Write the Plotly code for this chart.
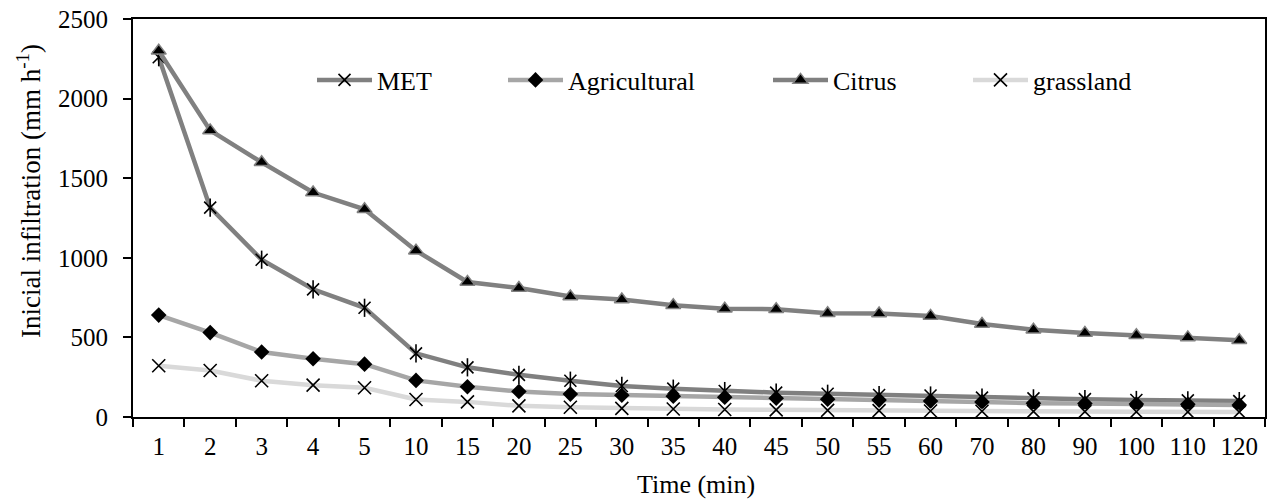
import plotly.graph_objects as go

times = ["1", "2", "3", "4", "5", "10", "15", "20", "25", "30", "35", "40",
         "45", "50", "55", "60", "70", "80", "90", "100", "110", "120"]
met = [2260, 1315, 988, 802, 686, 400, 312, 265, 228, 195, 178, 163,
       153, 146, 138, 135, 122, 117, 112, 107, 104, 100]
agricultural = [640, 530, 408, 366, 332, 230, 190, 160, 144, 137, 130, 124,
                118, 112, 106, 100, 95, 87, 85, 81, 80, 76]
citrus = [2300, 1800, 1600, 1410, 1305, 1045, 848, 810, 757, 738, 702, 680,
          677, 652, 650, 635, 584, 548, 527, 514, 500, 482]
grassland = [322, 292, 228, 200, 184, 110, 95, 70, 61, 54, 50, 47,
             45, 42, 40, 38, 36, 35, 34, 33, 32, 31]

FONT = "Liberation Serif, Times New Roman, serif"
FS_TICK = 25
FS_LEG = 26
FS_TITLE = 26

fig = go.Figure()

fig.add_trace(go.Scatter(
    x=times, y=met, name="MET", mode="lines+markers", legend="legend",
    line=dict(color="#808080", width=4.5),
    marker=dict(symbol="x-thin-open", size=12, color="black",
                line=dict(color="black", width=1.6)),
))
fig.add_trace(go.Scatter(
    x=times, y=met, name="MET", mode="markers", showlegend=False,
    marker=dict(symbol="line-ns-open", size=13, color="black",
                line=dict(color="black", width=1.6)),
))
fig.add_trace(go.Scatter(
    x=times, y=agricultural, name="Agricultural", mode="lines+markers",
    legend="legend2",
    line=dict(color="#a6a6a6", width=4.5),
    marker=dict(symbol="diamond", size=12, color="black",
                line=dict(color="black", width=0)),
))
fig.add_trace(go.Scatter(
    x=times, y=citrus, name="Citrus", mode="lines+markers", legend="legend3",
    line=dict(color="#808080", width=4.5),
    marker=dict(symbol="triangle-up", size=13, color="black",
                line=dict(color="#808080", width=1.5)),
))
fig.add_trace(go.Scatter(
    x=times, y=grassland, name="grassland", mode="lines+markers",
    legend="legend4",
    line=dict(color="#d9d9d9", width=4.5),
    marker=dict(symbol="x-thin-open", size=13, color="black",
                line=dict(color="black", width=1.6)),
))

# page has an 8px body margin: figure origin sits at (8, 8) on the page
OFF = 8
W, H = 1276 - OFF, 500 - OFF
# plot area in page pixels: x 133..1265, y 19..417
PL, PR, PT, PB = 133, 1265, 19, 417
L, R, T, B = PL - OFF, (W + OFF) - PR, PT - OFF, (H + OFF) - PB
pw = PR - PL
ph = PB - PT


def px_x(px):
    return (px - PL) / pw


def px_y(py):
    return (PB - py) / ph


leg_common = dict(orientation="h", yanchor="middle", xanchor="left",
                  bgcolor="rgba(0,0,0,0)", borderwidth=0, itemwidth=55,
                  font=dict(family=FONT, size=FS_LEG, color="black"))

fig.update_layout(
    width=W, height=H,
    margin=dict(l=L, r=R, t=T, b=B, autoexpand=False),
    plot_bgcolor="white", paper_bgcolor="white",
    font=dict(family=FONT, size=FS_TICK, color="black"),
    legend=dict(x=px_x(377 - 65), y=px_y(80), **leg_common),
    legend2=dict(x=px_x(568 - 65), y=px_y(80), **leg_common),
    legend3=dict(x=px_x(833 - 65), y=px_y(80), **leg_common),
    legend4=dict(x=px_x(1033 - 65), y=px_y(80), **leg_common),
    xaxis=dict(
        type="category", tickson="boundaries", range=[-0.5, 21.5],
        automargin=False, ticklabeloverflow="allow",
        showline=True, linecolor="black", linewidth=2, mirror=True,
        ticks="outside", ticklen=8, tickwidth=2, tickcolor="black",
        showgrid=False, zeroline=False,
        tickfont=dict(family=FONT, size=FS_TICK, color="black"),
        ticklabelstandoff=6,
    ),
    yaxis=dict(
        range=[0, 2500], tickvals=[0, 500, 1000, 1500, 2000, 2500],
        automargin=False, ticklabeloverflow="allow",
        showline=True, linecolor="black", linewidth=2, mirror=True,
        ticks="outside", ticklen=8, tickwidth=2, tickcolor="black",
        showgrid=False, zeroline=False,
        tickfont=dict(family=FONT, size=FS_TICK, color="black"),
        ticklabelstandoff=10,
    ),
    annotations=[
        dict(text="Time (min)", xref="paper", yref="paper",
             x=px_x(696), y=0, xanchor="center", yanchor="middle",
             yshift=-(484 - PB), showarrow=False,
             font=dict(family=FONT, size=FS_TITLE, color="black")),
        dict(text="Inicial infiltration (mm h<sup>-1</sup>)",
             xref="paper", yref="paper", x=0, y=px_y(191),
             xanchor="center", yanchor="middle", xshift=29 - PL,
             textangle=-90, showarrow=False,
             font=dict(family=FONT, size=27, color="black")),
    ],
)

fig.write_html("out.html")
